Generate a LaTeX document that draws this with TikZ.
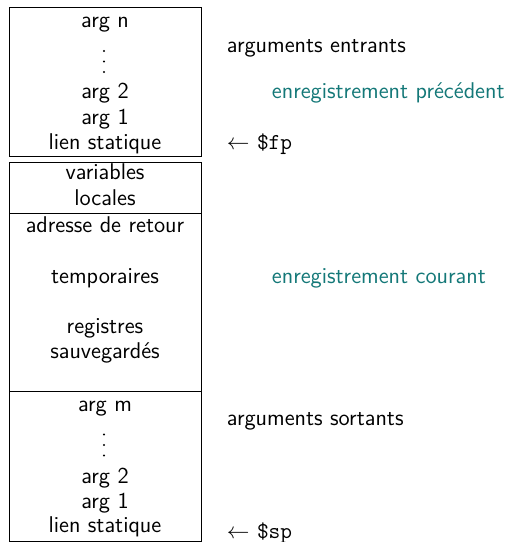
\documentclass[tikz,border=0pt]{standalone}
\usetikzlibrary{positioning}
\definecolor{recteal}{RGB}{20,120,120}
\begin{document}
\begin{tikzpicture}[x=0.4831pt, y=-0.4831pt,
  every node/.style={font=\sffamily\fontsize{11}{13}\selectfont, inner sep=0pt},
  cell/.style={draw, line width=0.5pt, anchor=north west, minimum width=192*0.4831pt},
  line/.style={anchor=base},
  side/.style={anchor=base west},
  frame/.style={side, text=recteal},
  vdot/.style={circle, fill, minimum size=1.1pt, inner sep=0pt}]
\useasboundingbox (0,0) rectangle (508,542);

% stack cells
\node[cell, minimum height=149*0.4831pt] (incoming) at (9,7) {};
\node[cell, minimum height=51*0.4831pt] (locals) at (9,162) {};
\node[cell, minimum height=178*0.4831pt] (saved) at (9,213) {};
\node[cell, minimum height=150*0.4831pt] (outgoing) at (9,391) {};

% incoming arguments
\node[line] (an) at (105,27.5) {arg n};
\node[vdot] (dn1) at (104,51) {};
\node[vdot] (dn2) at (104,61.5) {};
\node[vdot] (dn3) at (104,72) {};
\node[line] (a2n) at (105,98.5) {arg 2};
\node[line] (a1n) at (105,124) {arg 1};
\node[line] (sln) at (105,149.5) {lien statique};

% locals
\node[line] (vl) at (105,179.5) {variables};
\node[line] (lc) at (105,205.5) {locales};

% return address, temporaries, saved registers
\node[line] (ra) at (105,232.5) {adresse de retour};
\node[line] (tp) at (105,283.5) {temporaires};
\node[line] (rg) at (105,333.5) {registres};
\node[line] (sv) at (105,358.5) {sauvegardés};

% outgoing arguments
\node[line] (am) at (105,411.5) {arg m};
\node[vdot] (dm1) at (104,434.5) {};
\node[vdot] (dm2) at (104,445) {};
\node[vdot] (dm3) at (104,455.5) {};
\node[line] (a2m) at (105,483.5) {arg 2};
\node[line] (a1m) at (105,508.5) {arg 1};
\node[line] (slm) at (105,532.5) {lien statique};

% annotations on the right
\node[side] (ae) at (226.5,52.5) {arguments entrants};
\node[frame] (ep) at (271.5,98.5) {enregistrement précédent};
\node[side] (fp) at (226.5,149.5) {$\leftarrow$ \texttt{\$fp}};
\node[frame] (ec) at (271.5,283.5) {enregistrement courant};
\node[side] (as) at (226.5,425) {arguments sortants};
\node[side] (sp) at (226.5,538.5) {$\leftarrow$ \texttt{\$sp}};
\end{tikzpicture}
\end{document}
